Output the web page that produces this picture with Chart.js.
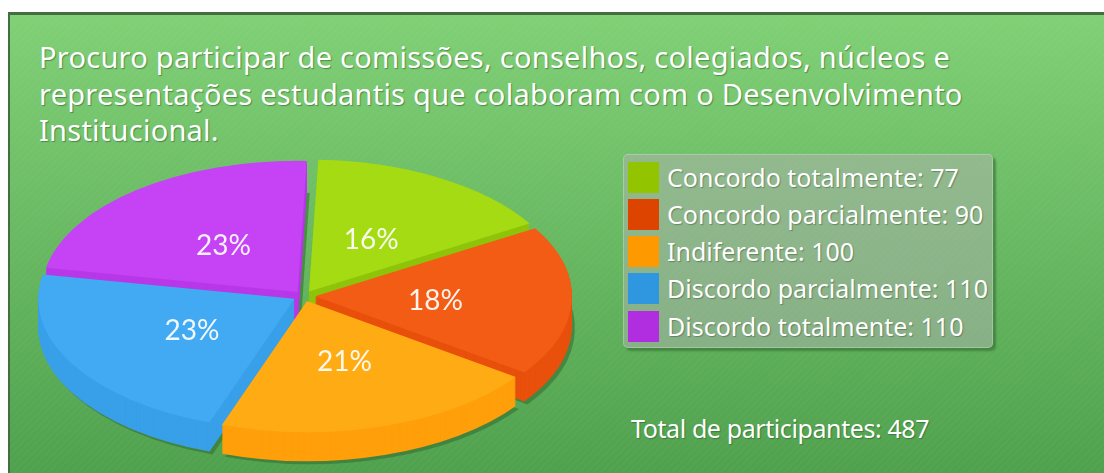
<!DOCTYPE html>
<html>
<head>
<meta charset="utf-8">
<script src="https://cdn.jsdelivr.net/npm/chart.js@4"></script>
<style>
html, body { margin: 0; padding: 0; background: #fff; }
body { width: 1104px; height: 473px; overflow: hidden; position: relative; font-family: "Noto Sans", sans-serif; }
#panel {
    position: absolute; left: 8px; top: 12px; width: 1110px; height: 470px;
    border: solid #436f40; border-width: 3px 0 0 2px; box-sizing: border-box;
    background:
        repeating-linear-gradient(135deg, rgba(255,255,255,0.02) 0 2px, rgba(255,255,255,0) 2px 5px),
        linear-gradient(#80d076, #4fa04d);
}
.txt { position: absolute; color: #fff; text-shadow: 1px 1px 1px rgba(40,90,40,0.55); white-space: nowrap; }
#title { left: 39px; top: 39px; font-size: 29px; line-height: 36.5px; letter-spacing: 0.25px; }
#total { left: 631px; top: 411px; font-size: 25px; line-height: 34px; letter-spacing: -0.4px; }
#legend {
    position: absolute; left: 623px; top: 154px; width: 370px; height: 194px; box-sizing: border-box;
    background: rgba(178,178,178,0.5); border-radius: 5px;
    border: 1px solid rgba(255,255,255,0.25);
    box-shadow: 3px 3px 2px rgba(50,110,50,0.6);
}
.row { position: absolute; left: 4px; height: 31px; }
.box { position: absolute; left: 0; top: 0; width: 31px; height: 31px; }
.lab { position: absolute; left: 39px; top: -3px; font-size: 25px; line-height: 36px; color: #fff; white-space: nowrap; text-shadow: 1px 1px 1px rgba(60,90,60,0.5); }
#pie { position: absolute; left: 0; top: 119px; width: 608px; height: 354px; }
</style>
</head>
<body>
<div id="panel"></div>
<div id="title" class="txt"></div>
<div id="pie"><canvas id="c"></canvas></div>
<div id="legend"></div>
<div id="total" class="txt"></div>
<script>
const titleLines = [
    'Procuro participar de comissões, conselhos, colegiados, núcleos e',
    'representações estudantis que colaboram com o Desenvolvimento',
    'Institucional.'
];
const categories = ['Concordo totalmente', 'Concordo parcialmente', 'Indiferente', 'Discordo parcialmente', 'Discordo totalmente'];
const counts = [77, 90, 100, 110, 110];
const percents = ['16%', '18%', '21%', '23%', '23%'];
const totalLabel = 'Total de participantes: 487';
const topColors = ['#a4db12', '#f25c14', '#ffab14', '#42aaf3', '#c542f5'];
const sideColors = ['#8ec40a', '#e8500c', '#ff9f0a', '#38a0e8', '#b838e8'];
const legendColors = ['#92c500', '#dc4400', '#ff9900', '#2e97e0', '#b02ee0'];
const legendRows = [10, 47, 84, 121, 159];
const sliceOffsets = [40, 44, 40, 44, 40];

const squash = 0.512;
const depth = 29;

document.getElementById('title').innerHTML = titleLines.join('<br>');
document.getElementById('total').textContent = totalLabel;

const legend = document.getElementById('legend');
categories.forEach((name, i) => {
    const row = document.createElement('div');
    row.className = 'row';
    row.style.top = (legendRows[i] - 3) + 'px';
    row.innerHTML = `<div class="box" style="background:${legendColors[i]}"></div><div class="lab">${name}: ${counts[i]}</div>`;
    legend.appendChild(row);
});

// draw an arc with another colour, keeps the geometry of the real element
function drawArcAs(arc, ctx, color) {
    const ghost = Object.create(arc, {
        options: { value: {
            backgroundColor: color, borderColor: color, borderWidth: 0,
            offset: arc.options.offset, spacing: 0, borderRadius: 0, circular: true
        } }
    });
    arc.draw.call(ghost, ctx);
}

function squashAround(ctx, x, y, dx, dy) {
    ctx.translate(x + dx, y + dy);
    ctx.scale(1, squash);
    ctx.translate(-x, -y);
}

const pie3d = {
    id: 'pie3d',
    beforeDatasetsDraw(chart) {
        const ctx = chart.ctx;
        const arcs = chart.getDatasetMeta(0).data;
        const x = arcs[0].x, y = arcs[0].y;
        // back slices first
        const order = [4, 0, 3, 1, 2];
        order.forEach(i => {
            ctx.save();
            squashAround(ctx, x, y, 3, depth + 3);
            drawArcAs(arcs[i], ctx, 'rgba(50,105,50,0.55)');
            ctx.restore();
        });
        order.forEach(i => {
            for (let d = depth; d >= 1; d--) {
                ctx.save();
                squashAround(ctx, x, y, 0, d);
                drawArcAs(arcs[i], ctx, sideColors[i]);
                ctx.restore();
            }
        });
        ctx.save();
        squashAround(ctx, x, y, 0, 0);
    },
    afterDatasetsDraw(chart) {
        const ctx = chart.ctx;
        ctx.restore();
        const arcs = chart.getDatasetMeta(0).data;
        ctx.save();
        ctx.font = '28px Lato, "Open Sans", sans-serif';
        ctx.fillStyle = 'rgba(255,255,255,0.92)';
        ctx.textAlign = 'center';
        ctx.textBaseline = 'middle';
        arcs.forEach((arc, i) => {
            const mid = (arc.startAngle + arc.endAngle) / 2;
            const r = arc.outerRadius * 0.51;
            ctx.fillText(percents[i], arc.x + 1 + Math.cos(mid) * r, arc.y + 2 + Math.sin(mid) * r * squash);
        });
        ctx.restore();
    }
};

new Chart(document.getElementById('c'), {
    type: 'pie',
    data: {
        labels: categories,
        datasets: [{
            data: counts,
            backgroundColor: topColors,
            borderWidth: 0,
            offset: sliceOffsets,
            clip: false
        }]
    },
    options: {
        responsive: true,
        maintainAspectRatio: false,
        animation: false,
        rotation: 2,
        radius: 256,
        layout: { padding: 0 },
        plugins: { legend: { display: false }, tooltip: { enabled: false } }
    },
    plugins: [pie3d]
});
</script>
</body>
</html>
